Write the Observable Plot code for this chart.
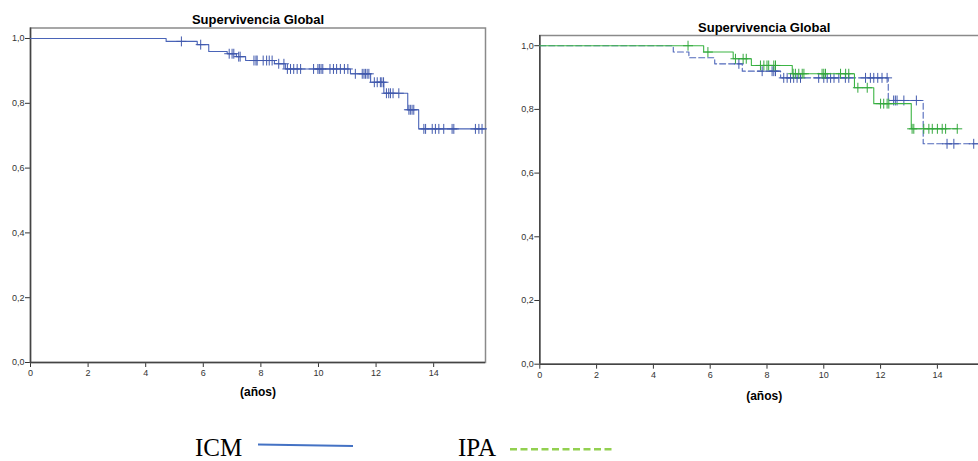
<!DOCTYPE html>
<html>
<head>
<meta charset="utf-8">
<script src="https://cdn.jsdelivr.net/npm/d3@7"></script>
<script src="https://cdn.jsdelivr.net/npm/@observablehq/plot@0.6"></script>
<style>
  html, body { margin: 0; padding: 0; background: #fff; overflow: hidden; }
  #wrap { position: relative; width: 978px; height: 461px; overflow: hidden; }
  #left { position: absolute; left: 0; top: 0; width: 500px; }
  #right { position: absolute; left: 500px; top: 0; width: 500px; }
  #left svg, #right svg { max-width: none !important; }
  #legend { position: absolute; left: 0; top: 0; }
</style>
</head>
<body>
<div id="wrap">
  <div id="left"></div>
  <div id="right"></div>
  <svg id="legend" width="978" height="461"></svg>
</div>
<script>
// ---- Data ----
const chartTitle = "Supervivencia Global";
const xAxisLabel = "(años)";
const xMax = 15.8;

// Left panel: global survival
const globalEventTimes = [0, 4.71, 5.79, 6.19, 6.83, 7.15, 7.47, 8.47, 8.85, 11.11, 11.81, 12.27, 13.10, 13.48];
const globalSurvival   = [1.0, 0.991, 0.981, 0.960, 0.953, 0.944, 0.932, 0.922, 0.906, 0.891, 0.865, 0.831, 0.780, 0.721];
const globalCensored   = [5.24, 5.91, 6.90, 7.0, 7.06, 7.23, 7.28, 7.76, 7.83, 7.87, 8.08, 8.2, 8.29, 8.39, 8.62, 8.8,
  8.92, 9.03, 9.14, 9.26, 9.38, 9.83, 9.98, 10.03, 10.09, 10.15, 10.4, 10.52, 10.63, 10.76, 10.9, 11.02,
  11.28, 11.52, 11.58, 11.63, 11.69, 11.75, 11.94, 12.04, 12.15, 12.2, 12.26, 12.36, 12.44, 12.5, 12.59, 12.79,
  13.14, 13.19, 13.25, 13.31, 13.66, 13.72, 13.95, 14.06, 14.18, 14.35, 14.64, 14.70, 15.45, 15.57, 15.68];
const globalEnd = 15.8;

// Right panel: green solid group
const greenEventTimes = [0, 5.77, 6.81, 7.45, 8.89, 11.08, 11.76, 13.08];
const greenSurvival   = [1.0, 0.980, 0.959, 0.938, 0.912, 0.868, 0.818, 0.739];
const greenCensored   = [5.22, 5.92, 6.89, 7.16, 7.27, 7.77, 7.89, 8.0, 8.06, 8.24, 8.3, 8.92, 9.0, 9.12, 9.24, 9.3,
  9.94, 10.0, 10.06, 10.59, 10.77, 10.88, 11.2, 11.53, 12.0, 12.11, 12.23, 12.29, 13.11, 13.17, 13.52, 13.7,
  13.82, 14.0, 14.17, 14.29, 14.7];
const greenEnd = 14.7;

// Right panel: blue dashed group
const blueEventTimes = [0, 4.7, 5.25, 6.16, 7.13, 8.48, 12.27, 13.5];
const blueSurvival   = [1.0, 0.98, 0.962, 0.943, 0.920, 0.899, 0.828, 0.692];
const blueCensored   = [7.01, 7.83, 8.18, 8.24, 8.3, 8.59, 8.71, 8.83, 8.94, 9.06, 9.18, 9.82, 10.0, 10.12, 10.24,
  10.36, 10.53, 10.76, 10.88, 11.47, 11.64, 11.76, 11.9, 12.05, 12.23, 12.46, 12.52, 12.58, 12.82, 13.26,
  14.34, 14.58, 15.28];
const blueEnd = 15.8;

const legendLabels = ["ICM", "IPA"];

// ---- Helpers ----
function stepData(times, surv, end) {
  const d = times.map((t, i) => ({t, s: surv[i]}));
  d.push({t: end, s: surv[surv.length - 1]});
  return d;
}
function censorData(times, surv, cens) {
  return cens.map(c => {
    let s = surv[0];
    for (let i = 0; i < times.length; i++) if (times[i] <= c) s = surv[i];
    return {t: c, s};
  });
}
const fmtY = d => d.toFixed(1).replace(".", ",");
const FONT = "'Liberation Sans', Arial, sans-serif";

function panel({width, height, mL, mR, mT, mB, yTop, curves, titleDy, labelDy}) {
  const marks = [
    Plot.frame({stroke: "#8a8a8a", strokeWidth: 1.5}),
    Plot.ruleX([0], {stroke: "#444", strokeWidth: 1.5}),
    Plot.ruleY([0], {stroke: "#444", strokeWidth: 1.5})
  ];
  for (const c of curves) {
    marks.push(Plot.line(c.line, {x: "t", y: "s", curve: "step-after", stroke: c.color, strokeWidth: 1.1,
      strokeDasharray: c.dash || null}));
    marks.push(Plot.dot(c.cens, {x: "t", y: "s", symbol: "plus", r: 3.3, stroke: c.censColor, strokeWidth: 1}));
  }
  marks.push(Plot.text([chartTitle], {frameAnchor: "top", lineAnchor: "middle", dy: titleDy,
    fontWeight: "bold", fontSize: 13, fill: "#000"}));
  marks.push(Plot.text([xAxisLabel], {frameAnchor: "bottom", lineAnchor: "middle", dy: labelDy,
    fontWeight: "bold", fontSize: 12, fill: "#000"}));
  return Plot.plot({
    width, height,
    marginLeft: mL, marginRight: mR, marginTop: mT, marginBottom: mB,
    style: {fontFamily: FONT, fontSize: "9px", color: "#333", background: "transparent", overflow: "visible"},
    x: {domain: [0, xMax], ticks: 8, tickFormat: d => String(d), tickSize: 5, tickPadding: 2, label: null},
    y: {domain: [0, yTop], ticks: 5, tickFormat: fmtY, tickSize: 5, tickPadding: 1, label: null},
    marks
  });
}

document.getElementById("left").appendChild(panel({
  width: 500, height: 410, mL: 30, mR: 15, mT: 27.5, mB: 48, yTop: 1.0324,
  titleDy: -8.5, labelDy: 30,
  curves: [{
    line: stepData(globalEventTimes, globalSurvival, globalEnd),
    cens: censorData(globalEventTimes, globalSurvival, globalCensored),
    color: "#4a64b8", censColor: "#4159ad"
  }]
}));

document.getElementById("right").appendChild(panel({
  width: 500, height: 410, mL: 39.3, mR: 12, mT: 35, mB: 46.3, yTop: 1.032,
  titleDy: -7.9, labelDy: 31.5,
  curves: [{
    line: stepData(blueEventTimes, blueSurvival, blueEnd),
    cens: censorData(blueEventTimes, blueSurvival, blueCensored),
    color: "#5068bb", censColor: "#4159ad", dash: "6,3"
  }, {
    line: stepData(greenEventTimes, greenSurvival, greenEnd),
    cens: censorData(greenEventTimes, greenSurvival, greenCensored),
    color: "#3cb545", censColor: "#34a83e"
  }]
}));

// ---- Legend (below the charts) ----
const lg = d3.select("#legend");
lg.append("text").attr("x", 195).attr("y", 455.5).text(legendLabels[0])
  .attr("font-family", "'Liberation Serif', 'Times New Roman', serif").attr("font-size", 25).attr("fill", "#000");
lg.append("line").attr("x1", 258).attr("y1", 444.6).attr("x2", 353).attr("y2", 446)
  .attr("stroke", "#4472c4").attr("stroke-width", 2);
lg.append("text").attr("x", 458).attr("y", 455.5).text(legendLabels[1])
  .attr("font-family", "'Liberation Serif', 'Times New Roman', serif").attr("font-size", 25).attr("fill", "#000");
lg.append("line").attr("x1", 510).attr("y1", 449.3).attr("x2", 615).attr("y2", 449.3)
  .attr("stroke", "#92d050").attr("stroke-width", 2.5).attr("stroke-dasharray", "7,3.5");
</script>
</body>
</html>
